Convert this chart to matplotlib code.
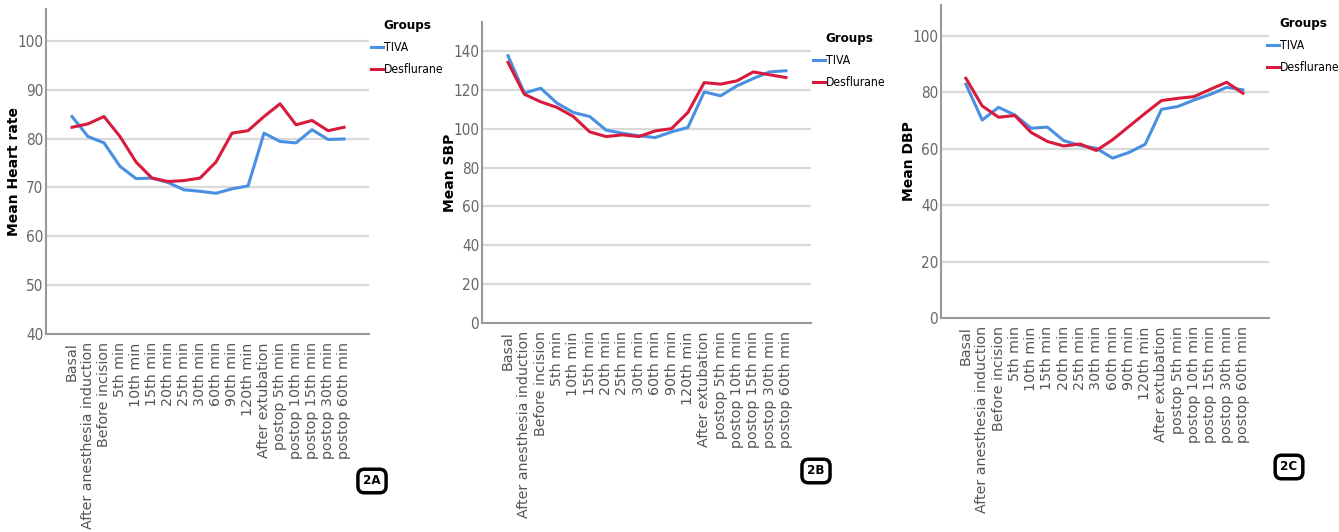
import matplotlib
matplotlib.use("Agg")
import matplotlib.pyplot as plt
import numpy as np

# time points (same for all three panels)
zeitpunkte = ["Basal", "After anesthesia induction", "Before incision", "5th min",
              "10th min", "15th min", "20th min", "25th min", "30th min", "60th min",
              "90th min", "120th min", "After extubation", "postop 5th min",
              "postop 10th min", "postop 15th min", "postop 30th min", "postop 60th min"]

# Mean heart rate
hr_tiva = [84.5, 80.4, 79.1, 74.3, 71.8, 71.9, 71.0, 69.5, 69.2, 68.8, 69.7, 70.3,
           81.1, 79.4, 79.1, 81.8, 79.8, 79.9]
hr_des = [82.3, 83.0, 84.5, 80.4, 75.2, 71.9, 71.2, 71.4, 71.9, 75.2, 81.1, 81.6,
          84.5, 87.1, 82.8, 83.7, 81.6, 82.3]

# Mean SBP
sbp_tiva = [137.6, 118.4, 120.9, 113.2, 108.4, 106.3, 99.3, 97.7, 96.4, 95.5, 98.4, 100.7,
            119.0, 117.0, 122.1, 125.9, 129.3, 129.9]
sbp_des = [134.2, 117.8, 113.9, 111.0, 106.3, 98.4, 96.0, 96.9, 96.0, 98.9, 100.1, 108.4,
           123.8, 123.0, 124.7, 129.3, 127.8, 126.4]

# Mean DBP
dbp_tiva = [82.9, 70.2, 74.7, 72.0, 67.3, 67.7, 62.9, 61.2, 60.2, 56.7, 58.7, 61.6,
            74.0, 75.0, 77.3, 79.3, 81.8, 80.9]
dbp_des = [85.0, 75.2, 71.2, 71.8, 65.8, 62.6, 61.0, 61.7, 59.4, 63.2, 67.9, 72.6,
           77.1, 77.9, 78.5, 81.1, 83.6, 79.7]

blau = "#4a90e2"
rot = "#d81b3c"
schmal = dict(family="DejaVu Sans", stretch="condensed")

fig = plt.figure(figsize=(13.39, 5.32), dpi=100)
W, H = 1339.0, 532.0

# Achsen in Pixeln (links, rechts, oben, unten)
panels = [
    dict(px=(46, 369, 9, 334), xl=(-1.625, 18.56), yl=(40, 106.5), yt=range(40, 101, 10),
         lab="Mean Heart rate", tiva=hr_tiva, des=hr_des, leg=(371, 19), tag="2A", tagpos=(372, 481)),
    dict(px=(482, 811, 22, 323), xl=(-1.59, 18.53), yl=(0, 155), yt=range(0, 141, 20),
         lab="Mean SBP", tiva=sbp_tiva, des=sbp_des, leg=(813, 32), tag="2B", tagpos=(816, 471)),
    dict(px=(941, 1269, 5, 318), xl=(-1.53, 18.6), yl=(0, 111), yt=range(0, 101, 20),
         lab="Mean DBP", tiva=dbp_tiva, des=dbp_des, leg=(1267, 17), tag="2C", tagpos=(1289, 467)),
]

x = np.arange(len(zeitpunkte))
for p in panels:
    l, r, t, b = p["px"]
    ax = fig.add_axes([l / W, 1 - b / H, (r - l) / W, (b - t) / H])
    for yv in p["yt"]:
        if yv != p["yl"][0]:
            ax.axhline(yv, color="#d9d9d9", lw=1.6, zorder=0)
    ax.plot(x, p["tiva"], color=blau, lw=2.2, label="TIVA", solid_joinstyle="round")
    ax.plot(x, p["des"], color=rot, lw=2.2, label="Desflurane", solid_joinstyle="round")
    ax.set_xlim(*p["xl"])
    ax.set_ylim(*p["yl"])
    ax.set_yticks(list(p["yt"]))
    ax.set_yticklabels([str(v) for v in p["yt"]], fontsize=11, color="#666666", **schmal)
    ax.set_xticks(x)
    ax.set_xticklabels(zeitpunkte, rotation=90, fontsize=10.3, color="#555555", family="DejaVu Sans")
    ax.tick_params(axis="y", length=0, pad=2)
    ax.tick_params(axis="x", length=0, pad=6)
    for s in ["top", "right"]:
        ax.spines[s].set_visible(False)
    for s in ["left", "bottom"]:
        ax.spines[s].set_color("#999999")
        ax.spines[s].set_linewidth(1.5)
    ax.set_ylabel(p["lab"], fontsize=10, fontweight="bold", family="DejaVu Sans")
    ax.yaxis.set_label_coords(-25.0 / (r - l), 0.5)
    leg = ax.legend(loc="upper left", bbox_to_anchor=(p["leg"][0] / W, 1 - p["leg"][1] / H),
                    bbox_transform=fig.transFigure, frameon=False, title="Groups",
                    handlelength=1.0, handletextpad=0.1, labelspacing=0.75, borderaxespad=0,
                    borderpad=0, prop=dict(size=8.7, **schmal))
    leg.get_title().set_fontweight("bold")
    leg.get_title().set_stretch("condensed")
    leg.get_title().set_fontsize(9.5)
    fig.text(p["tagpos"][0] / W, 1 - p["tagpos"][1] / H, p["tag"], ha="center", va="center",
             fontsize=9.5, fontweight="bold", **schmal,
             bbox=dict(boxstyle="round,pad=0.4,rounding_size=0.5", fc="white", ec="black", lw=2.5))

fig.savefig("out.png", dpi=100)
